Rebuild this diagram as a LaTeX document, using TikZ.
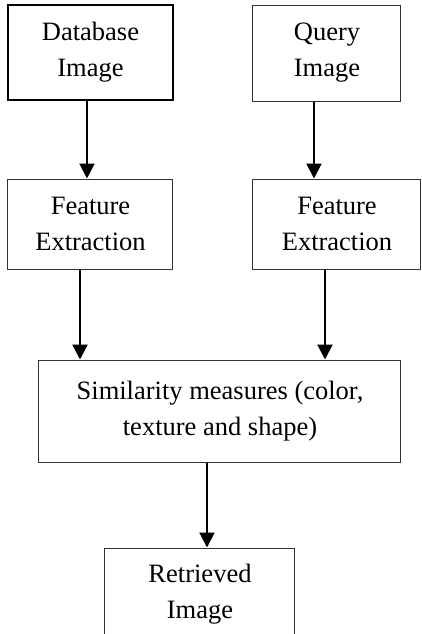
\documentclass[tikz,border=0pt]{standalone}
\usepackage{fontspec}
\setmainfont{Liberation Serif}
\usepackage{tikz}
\usetikzlibrary{calc,positioning,arrows.meta,shapes}
\tikzset{
>={Triangle[width=7.5pt,length=7.5pt]},
  boks/.style={
    rectangle,
    draw=black!80, line width=0.5pt,
    align=center,
    inner sep=0pt,
    font=\fontsize{13.25}{18}\selectfont},
  tykboks/.style={boks, draw=black, line width=1pt},
  pil/.style={draw, ->, line width=1pt},
}

\begin{document}
\begin{tikzpicture}[x=0.5pt, y=-0.5pt]
    % page frame, the last box runs off the bottom
    \useasboundingbox (0,0) rectangle (422,634);
    \clip (0,0) rectangle (422,634);

    \node[tykboks, minimum width=82.5pt, minimum height=47.5pt] (db) at (90.5,52.5) {Database\\Image};
    \node[boks, minimum width=74pt, minimum height=48pt] (query) at (327,53) {Query\\Image};

    \node[boks, minimum width=82.5pt, minimum height=45pt] (feat1) at (90.5,224) {Feature\\Extraction};
    \node[boks, minimum width=84pt, minimum height=45pt] (feat2) at (337,224) {Feature\\Extraction};

    \node[boks, minimum width=181pt, minimum height=51pt] (sim) at (220,411) {Similarity measures (color,\\texture and shape)};

    \node[boks, minimum width=95pt, minimum height=46pt] (ret) at (200,594) {Retrieved\\Image};

    % Now the arrows, straight down
    \draw[pil] ([xshift=-1.75pt]db.south) -- ([xshift=-1.75pt]db.south |- feat1.north);
    \draw[pil] ([xshift=-6.5pt]query.south) -- ([xshift=-6.5pt]query.south |- feat2.north);
    \draw[pil] ([xshift=-5.25pt]feat1.south) -- ([xshift=-5.25pt]feat1.south |- sim.north);
    \draw[pil] ([xshift=-6pt]feat2.south) -- ([xshift=-6pt]feat2.south |- sim.north);
    \draw[pil] ([xshift=-6.5pt]sim.south) -- ([xshift=-6.5pt]sim.south |- ret.north);
\end{tikzpicture}
\end{document}
